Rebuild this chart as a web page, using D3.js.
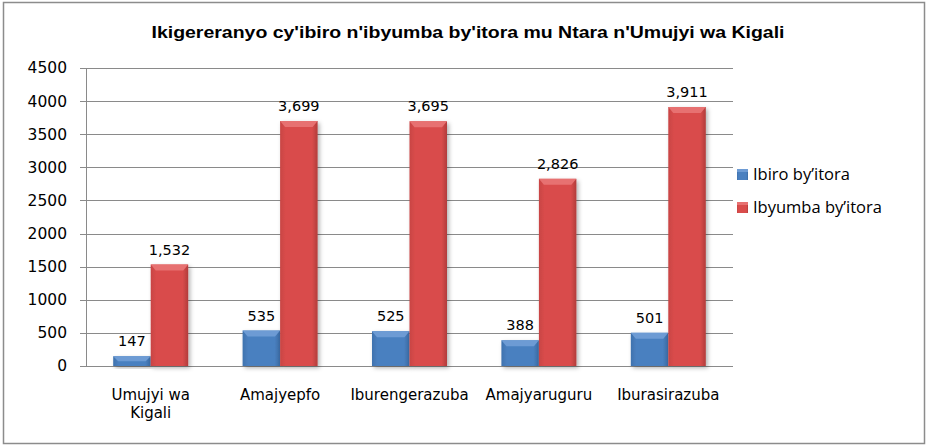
<!DOCTYPE html>
<html><head><meta charset="utf-8">
<script src="https://cdn.jsdelivr.net/npm/d3@7"></script>
<style>body{margin:0;background:#fff;}svg{display:block;}</style>
</head><body>
<svg id="c" width="929" height="448"></svg>
<script>
const categories = [["Umujyi wa","Kigali"],["Amajyepfo"],["Iburengerazuba"],["Amajyaruguru"],["Iburasirazuba"]];
const ibiro = [147, 535, 525, 388, 501];
const ibyumba = [1532, 3699, 3695, 2826, 3911];
const seriesNames = ["Ibiro by’itora", "Ibyumba by’itora"];
const yTicks = [0,500,1000,1500,2000,2500,3000,3500,4000,4500];
const title = "Ikigereranyo cy'ibiro n'ibyumba by'itora mu Ntara n'Umujyi wa Kigali";

const svg = d3.select("#c");
const defs = svg.append("defs");
const f = defs.append("filter").attr("id","sh").attr("x","-20%").attr("y","-20%").attr("width","150%").attr("height","150%");
f.append("feDropShadow").attr("dx",2).attr("dy",2).attr("stdDeviation",2).attr("flood-color","#000").attr("flood-opacity",0.3);
function grad(id, stops){
  const g = defs.append("linearGradient").attr("id",id).attr("x1","0").attr("x2","1").attr("y1","0").attr("y2","0");
  stops.forEach(s=>g.append("stop").attr("offset",s[0]).attr("stop-color",s[1]));
}
grad("gb",[[0,"#3f72ae"],[0.15,"#4a80c0"],[0.85,"#4a80c0"],[1,"#3a6aa3"]]);
grad("gr",[[0,"#c84444"],[0.15,"#d94c4b"],[0.85,"#d94c4b"],[1,"#b23c3b"]]);
const colors = [{fill:"url(#gb)",top:"#6d9bd4"},{fill:"url(#gr)",top:"#e77171"}];

svg.append("rect").attr("x",3.5).attr("y",2.5).attr("width",921).attr("height",441).attr("fill","#fff").attr("stroke","#8c8c8c").attr("stroke-width",1.5);

svg.append("text").attr("x",468).attr("y",38).attr("text-anchor","middle")
  .attr("font-family","Liberation Sans, sans-serif").attr("font-weight","bold").attr("font-size",17)
  .attr("textLength",633).attr("lengthAdjust","spacingAndGlyphs")
  .attr("fill","#000").text(title);

const x0 = 86, x1 = 733;
const y = d3.scaleLinear().domain([0,4500]).range([366,68]);
const x = d3.scaleBand().domain(d3.range(categories.length)).range([x0,x1]).paddingInner(0).paddingOuter(0);

svg.append("g").selectAll("line").data(yTicks).join("line")
  .attr("x1",80).attr("x2",x1).attr("y1",d=>Math.round(y(d))+0.5).attr("y2",d=>Math.round(y(d))+0.5)
  .attr("stroke","#8a8a8a").attr("stroke-width",1);
svg.append("line").attr("x1",x0+0.5).attr("x2",x0+0.5).attr("y1",68).attr("y2",366).attr("stroke","#8a8a8a");

const yAxis = svg.append("g").attr("transform",`translate(${x0},0)`)
  .call(d3.axisLeft(y).tickValues(yTicks).tickSize(0).tickPadding(19).tickFormat(d3.format("d")));
yAxis.select(".domain").remove();
yAxis.selectAll("text").attr("font-family","DejaVu Sans, sans-serif").attr("font-size",15.5).attr("fill","#000");

const bw = 37.5;
const data = [ibiro, ibyumba];
data.forEach((vals, si) => {
  const g = svg.append("g");
  vals.forEach((v,i) => {
    const cx = x(i) + x.bandwidth()/2;
    const bx = cx - bw + si*bw;
    const by = y(v), bh = y(0) - y(v);
    g.append("rect").attr("x",bx).attr("y",by).attr("width",bw).attr("height",bh)
      .attr("fill",colors[si].fill).attr("filter","url(#sh)");
    const bev = Math.min(6, bh/2);
    g.append("path").attr("d",`M${bx},${by}L${bx+bw},${by}L${bx+bw-5},${by+bev}L${bx+5},${by+bev}Z`)
      .attr("fill",colors[si].top);
    g.append("text").attr("x",bx+bw/2).attr("y",by-10).attr("text-anchor","middle")
      .attr("font-family","DejaVu Sans, sans-serif").attr("font-size",14.5).attr("fill","#000")
      .text(d3.format(",")(v));
  });
});

categories.forEach((lines,i) => {
  const t = svg.append("text").attr("text-anchor","middle").attr("font-family","DejaVu Sans, sans-serif")
    .attr("font-size",15).attr("fill","#000");
  lines.forEach((l,k)=>t.append("tspan").attr("x",x(i)+x.bandwidth()/2).attr("y",400+k*18).text(l));
});

seriesNames.forEach((n,i)=>{
  const ly = 175 + i*33;
  svg.append("rect").attr("x",737).attr("y",ly-6).attr("width",11).attr("height",11)
    .attr("fill",colors[i].fill);
  svg.append("rect").attr("x",737).attr("y",ly-6).attr("width",11).attr("height",3).attr("fill",colors[i].top);
  svg.append("text").attr("x",753).attr("y",ly+5).attr("font-family","Open Sans, sans-serif")
    .attr("font-size",16.5).attr("fill","#000").text(n);
});
</script>
</body></html>
